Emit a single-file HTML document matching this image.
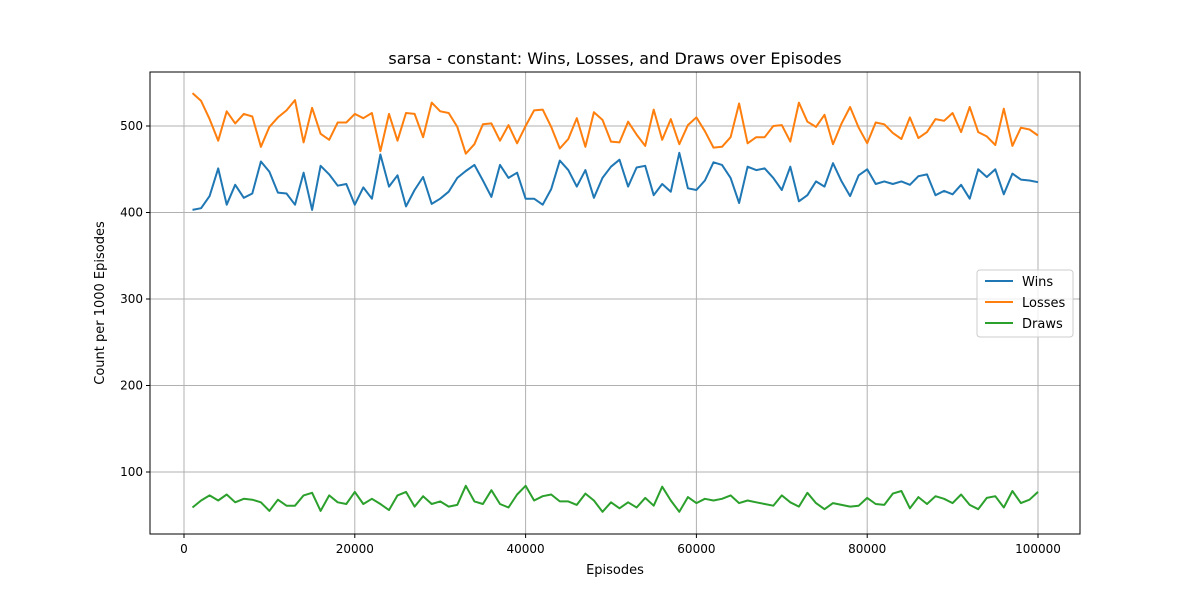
<!DOCTYPE html>
<html><head><meta charset="utf-8"><style>
body{margin:0;background:#fff;}
svg text{font-family:"DejaVu Sans","Liberation Sans",sans-serif;fill:#000;}
</style></head><body>
<svg id="chart" width="1200" height="600" xmlns="http://www.w3.org/2000/svg">
<rect width="1200" height="600" fill="#fff"/>
<g id="grid"></g>
<g id="series"></g>
<rect x="150" y="72" width="930" height="462" fill="none" stroke="#000" stroke-width="1"/>
<g id="axes"></g>
<text x="615" y="64" font-size="16" text-anchor="middle">sarsa - constant: Wins, Losses, and Draws over Episodes</text>
<text x="615" y="574" font-size="13" text-anchor="middle">Episodes</text>
<text transform="translate(104,303) rotate(-90)" font-size="13" text-anchor="middle">Count per 1000 Episodes</text>
<g>
<rect x="977" y="270" width="96" height="67" rx="3" fill="#fff" fill-opacity="0.8" stroke="#ccc"/>
<line x1="985" y1="281" x2="1013" y2="281" stroke="#1f77b4" stroke-width="2"/>
<text x="1022" y="286" font-size="13">Wins</text>
<line x1="985" y1="302" x2="1013" y2="302" stroke="#ff7f0e" stroke-width="2"/>
<text x="1022" y="307" font-size="13">Losses</text>
<line x1="985" y1="323" x2="1013" y2="323" stroke="#2ca02c" stroke-width="2"/>
<text x="1022" y="328" font-size="13">Draws</text>
</g>
</svg>
<script>
const wins=[403,405,419,451,409,432,417,422,459,447,423,422,409,446,403,454,444,431,433,409,429,416,467,430,443,407,426,441,410,416,424,440,448,455,437,418,455,440,446,416,416,409,427,460,449,430,449,417,440,453,461,430,452,454,420,433,424,469,428,426,437,458,455,440,411,453,449,451,440,426,453,413,420,436,430,457,436,419,443,450,433,436,433,436,432,442,444,420,425,421,432,416,450,441,450,421,445,438,437,435];
const losses=[538,529,508,483,517,503,514,511,476,499,510,518,530,481,521,491,484,504,504,514,509,515,471,514,483,515,514,487,527,517,515,499,468,479,502,503,483,501,480,500,518,519,499,474,485,509,476,516,507,482,481,505,490,477,519,484,508,479,501,510,494,475,476,487,526,480,487,487,500,501,482,527,505,499,513,479,503,522,498,480,504,502,492,485,510,486,493,508,506,515,493,522,493,488,478,520,477,498,496,489];
const draws=[59,67,73,67,74,65,69,68,65,55,68,61,61,73,76,55,73,65,63,77,63,69,63,56,73,77,60,72,63,66,60,62,84,66,63,79,63,59,74,84,67,72,74,66,66,62,75,67,54,65,58,65,59,70,61,83,67,54,71,64,69,67,69,73,64,67,65,63,61,73,65,60,76,64,57,64,62,60,61,70,63,62,75,78,58,71,63,72,69,64,74,62,57,70,72,59,78,64,68,77];
const xTicks=[0,20000,40000,60000,80000,100000];
const yTicks=[100,200,300,400,500];
const NS="http://www.w3.org/2000/svg";
function xs(v){return 184+v*(1038-184)/100000;}
function ys(v){return 472-(v-100)*(472-126)/400;}
const grid=document.getElementById('grid'),axes=document.getElementById('axes'),ser=document.getElementById('series');
function mk(tag,attrs,parent){const e=document.createElementNS(NS,tag);for(const k in attrs)e.setAttribute(k,attrs[k]);parent.appendChild(e);return e;}
xTicks.forEach(t=>{
 const g=mk('line',{x1:xs(t),x2:xs(t),y1:72,y2:534,stroke:'#b0b0b0','stroke-width':1},grid);
 
 
 mk('line',{x1:xs(t),x2:xs(t),y1:534,y2:538,stroke:'#000'},axes);
 const tx=mk('text',{x:xs(t),y:553,'font-size':12,'text-anchor':'middle'},axes);
 tx.textContent=t;
 
 
});
yTicks.forEach(t=>{
 const g=mk('line',{x1:150,x2:1080,y1:ys(t),y2:ys(t),stroke:'#b0b0b0','stroke-width':1},grid);
 
 
 mk('line',{x1:146,x2:150,y1:ys(t),y2:ys(t),stroke:'#000'},axes);
 const tx=mk('text',{x:143,y:ys(t)+4,'font-size':12,'text-anchor':'end'},axes);
 tx.textContent=t;
 
 
});
function line(data,color,name){
 const pts=data.map((v,i)=>xs((i+1)*1000).toFixed(1)+','+ys(v).toFixed(1)).join(' ');
 const p=mk('polyline',{points:pts,fill:'none',stroke:color,'stroke-width':2,'stroke-linejoin':'round'},ser);
 
 
}
line(wins,'#1f77b4','wins-line');
line(losses,'#ff7f0e','losses-line');
line(draws,'#2ca02c','draws-line');
</script>
</body></html>
